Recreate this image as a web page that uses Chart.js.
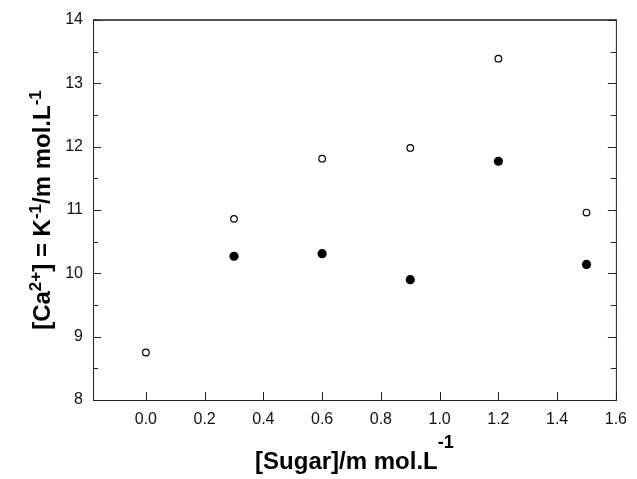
<!DOCTYPE html>
<html><head><meta charset="utf-8">
<script src="https://cdn.jsdelivr.net/npm/chart.js@4/dist/chart.umd.min.js"></script>
<style>html,body{margin:0;padding:0;background:#fff;}#wrap{width:637px;height:479px;position:relative;}</style>
</head><body><div id="wrap"><canvas id="c" width="637" height="479"></canvas></div>
<script>
const sugarOpen = [0.0, 0.3, 0.6, 0.9, 1.2, 1.5];
const caOpen = [8.75, 10.86, 11.81, 11.98, 13.39, 10.96];
const sugarFilled = [0.3, 0.6, 0.9, 1.2, 1.5];
const caFilled = [10.27, 10.31, 9.90, 11.77, 10.14];
const xTickValues = [0.0, 0.2, 0.4, 0.6, 0.8, 1.0, 1.2, 1.4, 1.6];
const yTickValues = [8, 9, 10, 11, 12, 13, 14];
const yMinorValues = [8.5, 9.5, 10.5, 11.5, 12.5, 13.5];
const xTitleParts = [["[Sugar]/m mol.L", false], ["-1", true]];
const yTitleParts = [["[Ca", false], ["2+", true], ["] = K", false], ["-1", true], ["/m mol.L", false], ["-1", true]];

const FONT = "'Liberation Sans', Arial, sans-serif";

function drawParts(ctx, parts, startX, baseY, mainSize, supSize, raise) {
  let x = startX;
  for (const [t, sup] of parts) {
    ctx.font = "bold " + (sup ? supSize : mainSize) + "px " + FONT;
    ctx.fillText(t, x, sup ? baseY - raise : baseY);
    x += ctx.measureText(t).width;
  }
}
function partsWidth(ctx, parts, mainSize, supSize) {
  let w = 0;
  for (const [t, sup] of parts) {
    ctx.font = "bold " + (sup ? supSize : mainSize) + "px " + FONT;
    w += ctx.measureText(t).width;
  }
  return w;
}

const decor = {
  id: 'decor',
  afterDraw(chart) {
    const ctx = chart.ctx, a = chart.chartArea;
    const xs = chart.scales.x, ys = chart.scales.y;
    ctx.save();
    ctx.lineCap = 'butt';
    // frame
    ctx.strokeStyle = '#222'; ctx.lineWidth = 1;
    ctx.beginPath();
    ctx.moveTo(a.left + 0.5, a.top); ctx.lineTo(a.left + 0.5, a.bottom + 0.5);
    ctx.lineTo(a.right + 0.5, a.bottom + 0.5); ctx.lineTo(a.right + 0.5, a.top);
    ctx.stroke();
    ctx.strokeStyle = '#555'; ctx.lineWidth = 2;
    ctx.beginPath(); ctx.moveTo(a.left, a.top); ctx.lineTo(a.right + 1, a.top); ctx.stroke();
    // ticks (inward)
    ctx.strokeStyle = '#222'; ctx.lineWidth = 1;
    ctx.beginPath();
    for (const v of xTickValues) {
      const px = Math.round(xs.getPixelForValue(v)) + 0.5;
      ctx.moveTo(px, a.bottom); ctx.lineTo(px, a.bottom - 8);
    }
    for (const v of yTickValues) {
      const py = Math.round(ys.getPixelForValue(v)) + 0.5;
      ctx.moveTo(a.left, py); ctx.lineTo(a.left + 8, py);
      ctx.moveTo(a.right + 1, py); ctx.lineTo(a.right - 8, py);
    }
    for (const v of yMinorValues) {
      const py = Math.round(ys.getPixelForValue(v)) + 0.5;
      ctx.moveTo(a.left, py); ctx.lineTo(a.left + 5, py);
      ctx.moveTo(a.right + 1, py); ctx.lineTo(a.right - 5, py);
    }
    ctx.stroke();
    // titles
    ctx.fillStyle = '#000';
    ctx.textBaseline = 'alphabetic';
    ctx.textAlign = 'left';
    const cx = (a.left + a.right) / 2;
    const wx = partsWidth(ctx, xTitleParts, 24, 18);
    drawParts(ctx, xTitleParts, cx - wx / 2, 469, 24, 18, 21);
    const cy = (a.top + a.bottom) / 2;
    const wy = partsWidth(ctx, yTitleParts, 24, 17);
    ctx.translate(50, cy);
    ctx.rotate(-Math.PI / 2);
    drawParts(ctx, yTitleParts, -wy / 2, 0, 24, 17, 9);
    ctx.restore();
  }
};

new Chart(document.getElementById('c'), {
  type: 'scatter',
  data: {
    datasets: [
      {
        label: 'open',
        data: sugarOpen.map((x, i) => ({ x: x, y: caOpen[i] })),
        pointRadius: 3.3,
        pointBorderWidth: 1.2,
        pointBorderColor: '#000',
        pointBackgroundColor: '#fff'
      },
      {
        label: 'filled',
        data: sugarFilled.map((x, i) => ({ x: x, y: caFilled[i] })),
        pointRadius: 4.6,
        pointBorderWidth: 0,
        pointBorderColor: '#000',
        pointBackgroundColor: '#000'
      }
    ]
  },
  options: {
    responsive: false,
    animation: false,
    devicePixelRatio: 1,
    layout: { padding: { top: 20, right: 15, left: 0, bottom: 0 } },
    plugins: { legend: { display: false }, tooltip: { enabled: false } },
    scales: {
      x: {
        type: 'linear', min: -0.18, max: 1.6,
        afterFit(s) { s.height = 79; },
        afterBuildTicks(s) { s.ticks = xTickValues.map(v => ({ value: v })); },
        grid: { display: false, drawTicks: false },
        border: { display: false },
        ticks: {
          padding: 10, color: '#111',
          font: { family: FONT, size: 16 },
          maxRotation: 0, autoSkip: false,
          callback: v => Number(v).toFixed(1)
        }
      },
      y: {
        type: 'linear', min: 8, max: 14,
        afterFit(s) { s.width = 93; },
        afterBuildTicks(s) { s.ticks = yTickValues.map(v => ({ value: v })); },
        grid: { display: false, drawTicks: false },
        border: { display: false },
        ticks: {
          padding: 10, color: '#111',
          font: { family: FONT, size: 16 },
          autoSkip: false,
          callback: v => String(v)
        }
      }
    }
  },
  plugins: [decor]
});
</script></body></html>
